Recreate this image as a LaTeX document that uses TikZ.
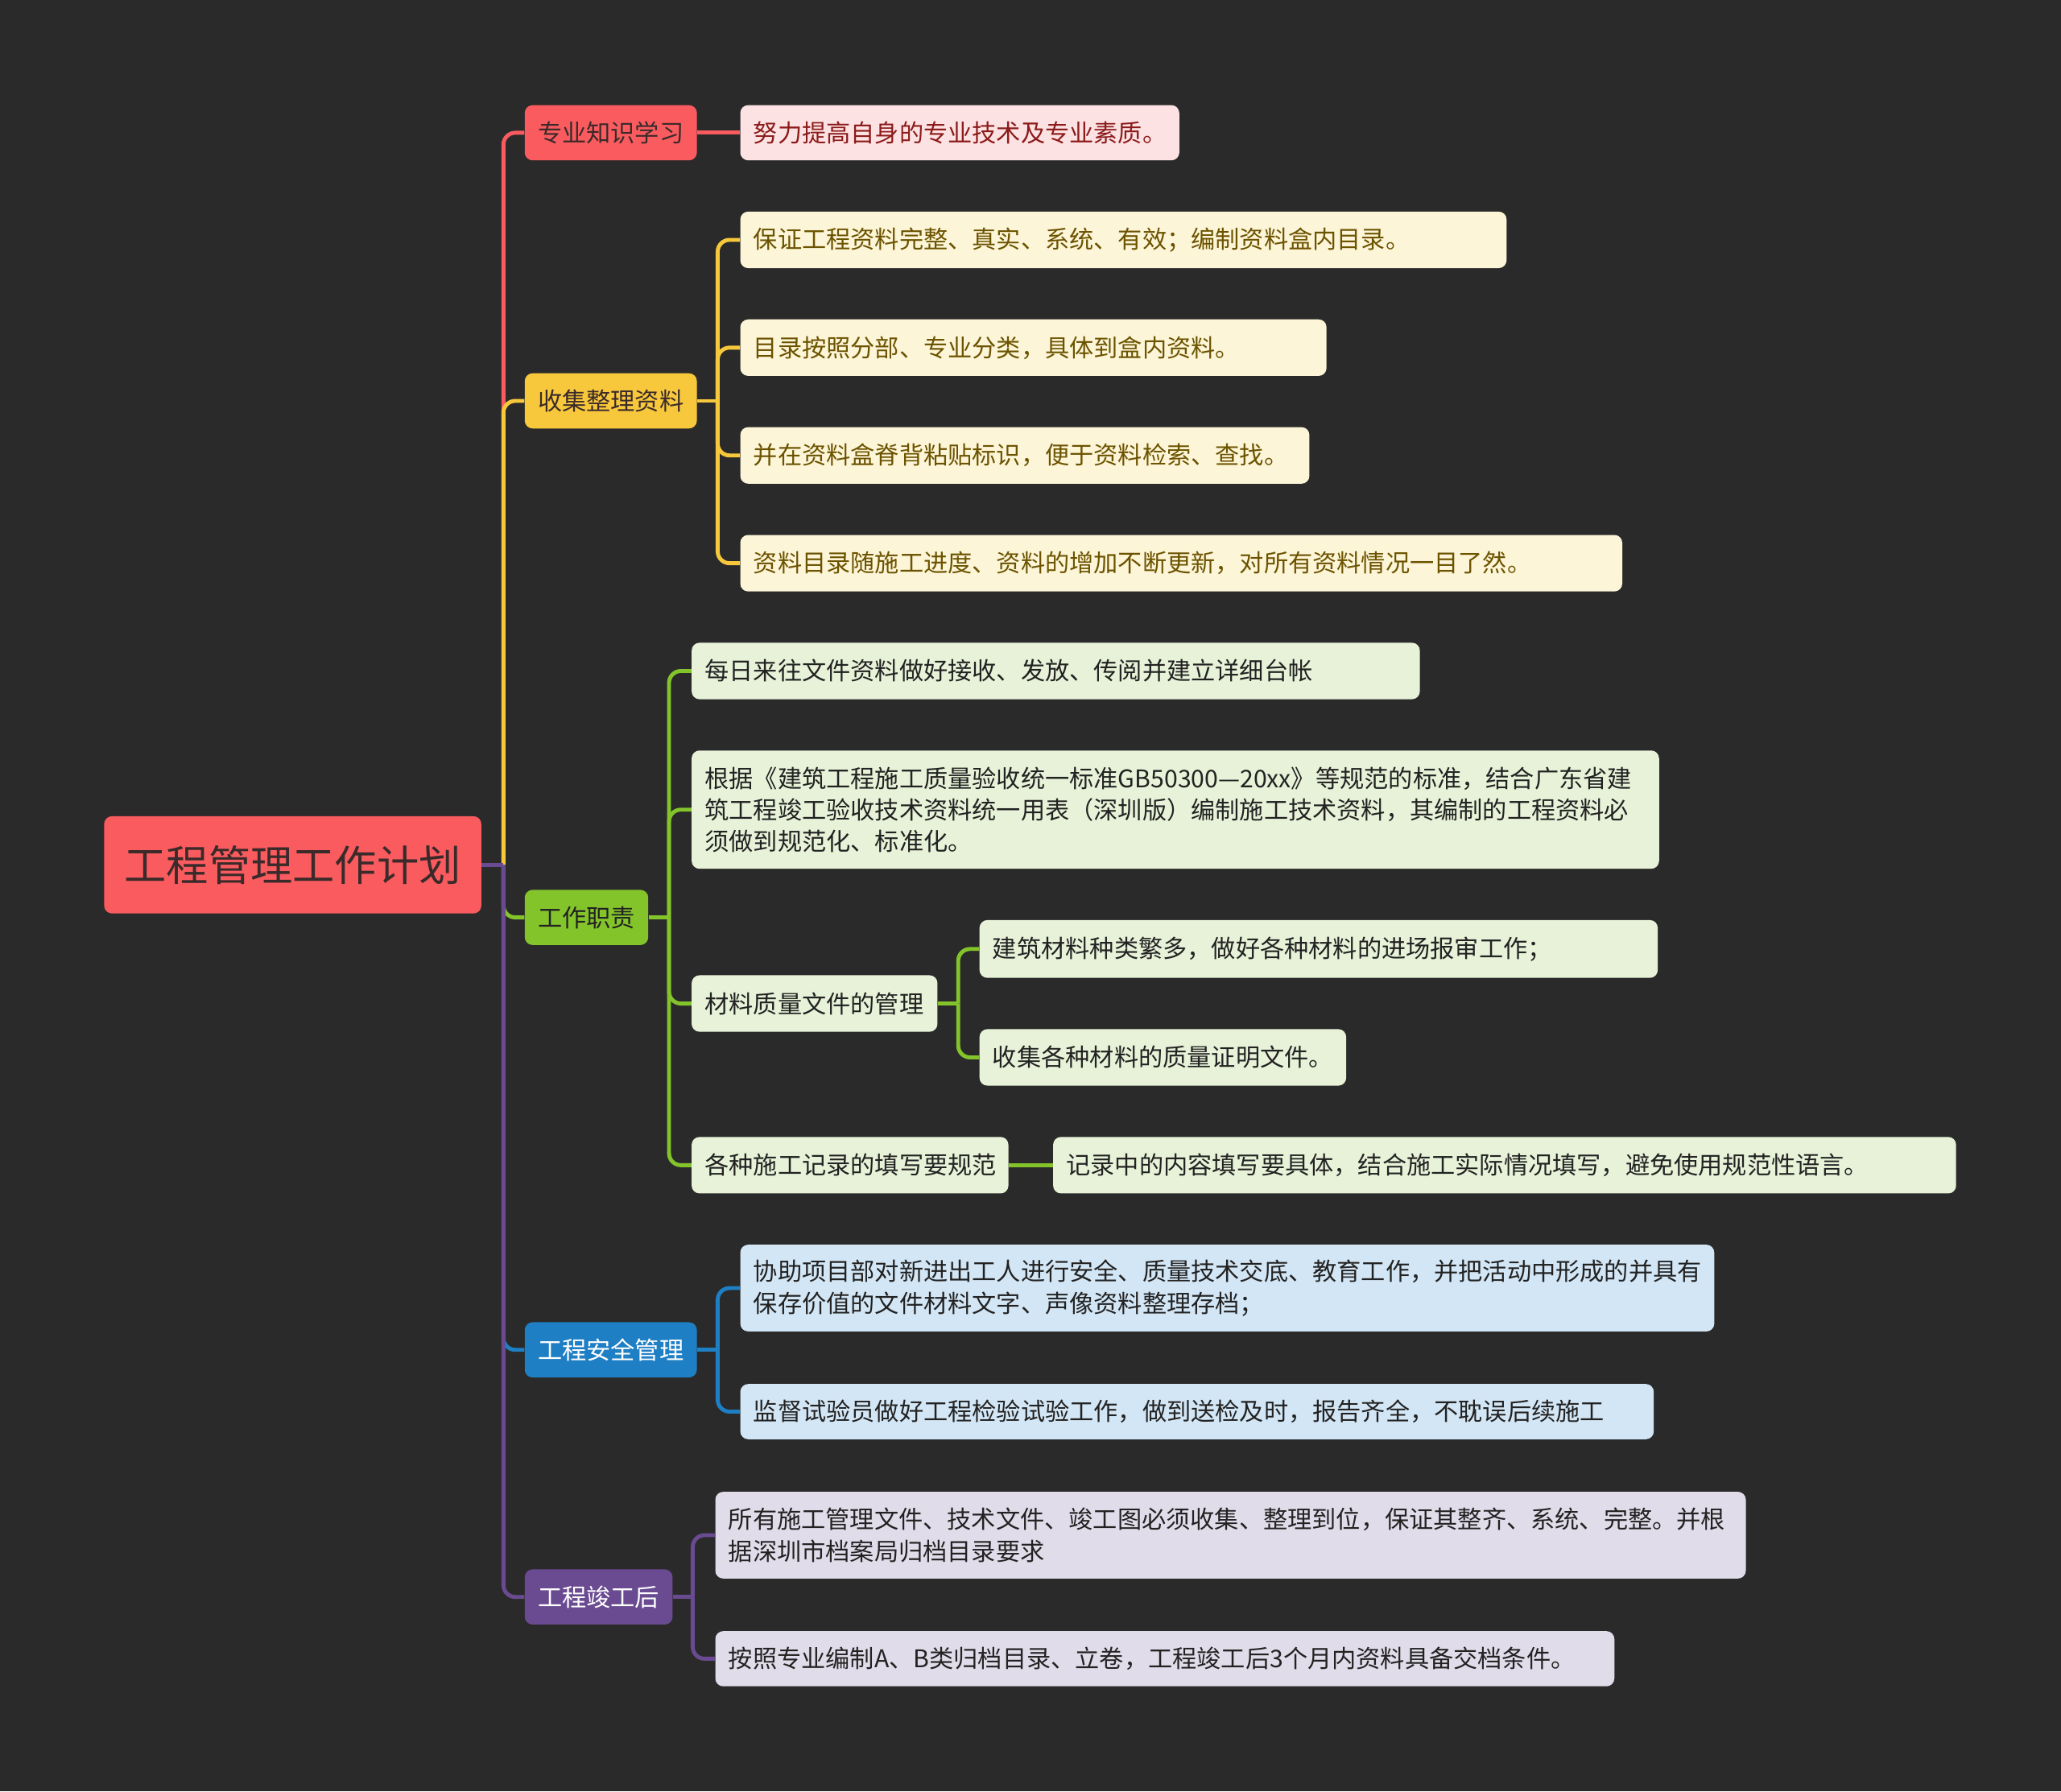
\documentclass[tikz,border=0pt]{standalone}
\usepackage{fontspec}
\newfontfamily\cjk{Noto Sans CJK SC}
\definecolor{bgc}{HTML}{2A2A2A}
\definecolor{redc}{HTML}{F95B5F}
\definecolor{redl}{HTML}{FDE2E3}
\definecolor{redt}{HTML}{8B1A1A}
\definecolor{yelc}{HTML}{F8C83C}
\definecolor{yell}{HTML}{FDF5D7}
\definecolor{yelt}{HTML}{6B5300}
\definecolor{grnc}{HTML}{84C42B}
\definecolor{grnl}{HTML}{E7F2D8}
\definecolor{bluc}{HTML}{1E7FC5}
\definecolor{blul}{HTML}{D3E6F5}
\definecolor{purc}{HTML}{6A4B92}
\definecolor{purl}{HTML}{E0DCE9}
\definecolor{darkt}{HTML}{222222}
\definecolor{roott}{HTML}{3A2A2A}
\begin{document}
\begin{tikzpicture}[x=1pt,y=-1pt,
  box/.style={rounded corners=6pt, inner xsep=10pt, inner ysep=3pt, anchor=west,
    font=\cjk\fontsize{18.5}{24}\selectfont},
  topic/.style={box, align=center, minimum height=42pt},
  leaf/.style={box, align=left},
  conn/.style={line width=3pt, rounded corners=9pt},
  straight/.style={line width=3pt},
]
\fill[bgc] (0,0) rectangle (1568,1363);
\useasboundingbox (0,0) rectangle (1568,1363);

% root
\node[box, fill=redc, text=roott, align=center, minimum width=287pt, minimum height=74pt,
  font=\cjk\fontsize{32}{36}\selectfont] (root) at (79,658) {工程管理工作计划};

% level 1
\node[topic, fill=redc, text=roott, minimum width=130pt] (n1) at (399,101) {专业知识学习};
\node[topic, fill=yelc, text=roott, minimum width=130pt] (n2) at (399,305) {收集整理资料};
\node[topic, fill=grnc, text=darkt, minimum width=94pt] (n3) at (399,698) {工作职责};
\node[topic, fill=bluc, text=white, minimum width=130pt] (n4) at (399,1027) {工程安全管理};
\node[topic, fill=purc, text=white, minimum width=112pt] (n5) at (399,1215) {工程竣工后};

% branch 1
\node[leaf, fill=redl, text=redt, text width=314pt, minimum height=42pt] (c11) at (563,101) {努力提高自身的专业技术及专业素质。};

% branch 2
\node[leaf, fill=yell, text=yelt, text width=563pt, minimum height=43pt] (c21) at (563,182.5) {保证工程资料完整、真实、系统、有效；编制资料盒内目录。};
\node[leaf, fill=yell, text=yelt, text width=426pt, minimum height=43pt] (c22) at (563,264.5) {目录按照分部、专业分类，具体到盒内资料。};
\node[leaf, fill=yell, text=yelt, text width=413pt, minimum height=43pt] (c23) at (563,346.5) {并在资料盒脊背粘贴标识，便于资料检索、查找。};
\node[leaf, fill=yell, text=yelt, text width=651pt, minimum height=43pt] (c24) at (563,428.5) {资料目录随施工进度、资料的增加不断更新，对所有资料情况一目了然。};

% branch 3
\node[leaf, fill=grnl, text=darkt, text width=534pt, minimum height=43pt] (c31) at (526,510.5) {每日来往文件资料做好接收、发放、传阅并建立详细台帐};
\node[leaf, fill=grnl, text=darkt, text width=716pt, minimum height=90pt] (c32) at (526,616) {根据《建筑工程施工质量验收统一标准GB50300—20xx》等规范的标准，结合广东省建\\筑工程竣工验收技术资料统一用表（深圳版）编制施工技术资料，其编制的工程资料必\\须做到规范化、标准化。};
\node[leaf, fill=grnl, text=darkt, text width=167pt, minimum height=43pt] (c33) at (526,763.5) {材料质量文件的管理};
\node[leaf, fill=grnl, text=darkt, text width=496pt, minimum height=44pt] (c331) at (745,722) {建筑材料种类繁多，做好各种材料的进场报审工作；};
\node[leaf, fill=grnl, text=darkt, text width=259pt, minimum height=43pt] (c332) at (745,804.5) {收集各种材料的质量证明文件。};
\node[leaf, fill=grnl, text=darkt, text width=221pt, minimum height=43pt] (c34) at (526,886.5) {各种施工记录的填写要规范};
\node[leaf, fill=grnl, text=darkt, text width=667pt, minimum height=43pt] (c341) at (801,886.5) {记录中的内容填写要具体，结合施工实际情况填写，避免使用规范性语言。};

% branch 4
\node[leaf, fill=blul, text=darkt, text width=721pt, minimum height=66pt] (c41) at (563,980) {协助项目部对新进出工人进行安全、质量技术交底、教育工作，并把活动中形成的并具有\\保存价值的文件材料文字、声像资料整理存档；};
\node[leaf, fill=blul, text=darkt, text width=675pt, minimum height=42pt] (c42) at (563,1074) {监督试验员做好工程检验试验工作，做到送检及时，报告齐全，不耽误后续施工};

% branch 5
\node[leaf, fill=purl, text=darkt, text width=764pt, minimum height=66pt] (c51) at (544,1168) {所有施工管理文件、技术文件、竣工图必须收集、整理到位，保证其整齐、系统、完整。并根\\据深圳市档案局归档目录要求};
\node[leaf, fill=purl, text=darkt, text width=664pt, minimum height=42pt] (c52) at (544,1262) {按照专业编制A、B类归档目录、立卷，工程竣工后3个月内资料具备交档条件。};

% junction coordinates
\coordinate (t0) at (383,658);
\coordinate (t2) at (546,305);
\coordinate (t3) at (509,698);
\coordinate (t33) at (729,763.5);
\coordinate (t4) at (546,1027);
\coordinate (t5) at (527,1215);

% root connectors (order: red, yellow, green, blue, purple)
\draw[conn, redc] (t0) |- (n1.west);
\draw[straight, redc] (root.east) -- (t0);
\draw[conn, yelc] (t0) |- (n2.west);
\draw[straight, yelc] (root.east) -- (t0);
\draw[conn, grnc] (t0) |- (n3.west);
\draw[conn, bluc] (t0) |- (n4.west);
\draw[conn, purc] (t0) |- (n5.west);
\draw[straight, purc] (root.east) -- (t0);

% branch 1
\draw[straight, redc] (n1.east) -- (c11.west);

% branch 2
\draw[straight, yelc] (n2.east) -- (t2);
\foreach \c in {c21,c22,c23,c24} \draw[conn, yelc] (t2) |- (\c.west);

% branch 3
\draw[straight, grnc] (n3.east) -- (t3);
\foreach \c in {c31,c32,c33,c34} \draw[conn, grnc] (t3) |- (\c.west);
\draw[straight, grnc] (c33.east) -- (t33);
\foreach \c in {c331,c332} \draw[conn, grnc] (t33) |- (\c.west);
\draw[straight, grnc] (c34.east) -- (c341.west);

% branch 4
\draw[straight, bluc] (n4.east) -- (t4);
\foreach \c in {c41,c42} \draw[conn, bluc] (t4) |- (\c.west);

% branch 5
\draw[straight, purc] (n5.east) -- (t5);
\foreach \c in {c51,c52} \draw[conn, purc] (t5) |- (\c.west);
\end{tikzpicture}
\end{document}
